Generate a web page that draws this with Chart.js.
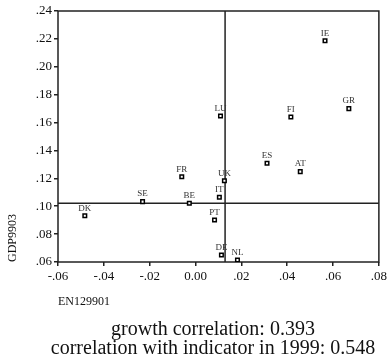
<!DOCTYPE html>
<html>
<head>
<meta charset="utf-8">
<script src="https://cdn.jsdelivr.net/npm/chart.js@4"></script>
<style>
  html, body { margin: 0; padding: 0; background: #fff; }
  #wrap { width: 390px; height: 362px; }
</style>
</head>
<body>
<div id="wrap"><canvas id="chart" width="390" height="362"></canvas></div>
<script>
// countries and their values
const countries = ['IE', 'GR', 'LU', 'FI', 'ES', 'AT', 'UK', 'IT', 'FR', 'SE', 'BE', 'DK', 'PT', 'DE', 'NL'];
const en129901 = [0.0565, 0.0669, 0.0109, 0.0416, 0.0312, 0.0457, 0.0126, 0.0104, -0.0060, -0.0231, -0.0027, -0.0483, 0.0083, 0.0113, 0.0183];
const gdp9903 = [0.2187, 0.1700, 0.1647, 0.1640, 0.1308, 0.1248, 0.1183, 0.1064, 0.1212, 0.1033, 0.1021, 0.0932, 0.0901, 0.0650, 0.0614];

// reference lines (means)
const refX = [0.0129];
const refY = [0.1021];

const xTicks = [-0.06, -0.04, -0.02, 0, 0.02, 0.04, 0.06, 0.08];
const yTicks = [0.06, 0.08, 0.10, 0.12, 0.14, 0.16, 0.18, 0.20, 0.22, 0.24];

const captions = ['growth correlation: 0.393', 'correlation with indicator in 1999: 0.548'];

const serif = '"Liberation Serif", "DejaVu Serif", serif';

function fmt(v) {
    if (Math.abs(v) < 1e-9) return '0.00';
    return v.toFixed(2).replace('0.', '.');
}

// Frame, reference lines, point labels and the captions underneath
const extras = {
    id: 'extras',
    beforeDatasetsDraw(chart) {
        const { ctx, chartArea: a, scales: { x, y } } = chart;
        ctx.save();
        ctx.strokeStyle = '#222';
        ctx.lineWidth = 1.5;
        refX.forEach(v => {
            const px = x.getPixelForValue(v);
            ctx.beginPath();
            ctx.moveTo(px, a.top);
            ctx.lineTo(px, a.bottom);
            ctx.stroke();
        });
        refY.forEach(v => {
            const py = y.getPixelForValue(v);
            ctx.beginPath();
            ctx.moveTo(a.left, py);
            ctx.lineTo(a.right, py);
            ctx.stroke();
        });
        ctx.strokeRect(a.left, a.top, a.right - a.left, a.bottom - a.top);
        ctx.restore();
    },
    afterDatasetsDraw(chart) {
        const { ctx } = chart;
        const meta = chart.getDatasetMeta(0);
        ctx.save();
        ctx.font = '9px ' + serif;
        ctx.fillStyle = '#333';
        ctx.textAlign = 'center';
        ctx.textBaseline = 'bottom';
        meta.data.forEach((pt, i) => {
            ctx.fillText(countries[i], pt.x, pt.y - 3);
        });
        ctx.restore();
    },
    afterDraw(chart) {
        const { ctx } = chart;
        ctx.save();
        ctx.font = '20px ' + serif;
        ctx.fillStyle = '#111';
        ctx.textAlign = 'center';
        ctx.textBaseline = 'alphabetic';
        captions.forEach((t, i) => ctx.fillText(t, 213, 335 + i * 18.5));
        ctx.restore();
    }
};

new Chart(document.getElementById('chart'), {
    type: 'scatter',
    data: {
        datasets: [{
            data: en129901.map((v, i) => ({ x: v, y: gdp9903[i] })),
            pointStyle: 'rect',
            radius: 2.5,
            borderWidth: 1.5,
            borderColor: '#000',
            backgroundColor: '#fff'
        }]
    },
    options: {
        responsive: false,
        animation: false,
        layout: { padding: { top: 11, right: 8, left: 0, bottom: 47 } },
        plugins: {
            legend: { display: false },
            tooltip: { enabled: false },
            title: { display: false }
        },
        scales: {
            x: {
                type: 'linear',
                min: xTicks[0],
                max: xTicks[xTicks.length - 1],
                afterBuildTicks: s => { s.ticks = xTicks.map(v => ({ value: v })); },
                afterFit: s => { s.height = 53; },
                grid: { drawOnChartArea: false, drawTicks: true, tickLength: 4, color: '#222', lineWidth: 1.5 },
                border: { display: false },
                ticks: {
                    color: '#111',
                    padding: 3,
                    maxRotation: 0,
                    font: { family: serif, size: 13 },
                    callback: v => fmt(v)
                },
                title: {
                    display: true,
                    text: 'EN129901',
                    align: 'start',
                    color: '#111',
                    font: { family: serif, size: 12 },
                    padding: { top: 0, bottom: 6 }
                }
            },
            y: {
                type: 'linear',
                min: yTicks[0],
                max: yTicks[yTicks.length - 1],
                afterBuildTicks: s => { s.ticks = yTicks.map(v => ({ value: v })); },
                afterFit: s => { s.width = 58; },
                grid: { drawOnChartArea: false, drawTicks: true, tickLength: 4, color: '#222', lineWidth: 1.5 },
                border: { display: false },
                ticks: {
                    color: '#111',
                    padding: 2,
                    font: { family: serif, size: 13 },
                    callback: v => fmt(v)
                },
                title: {
                    display: true,
                    text: 'GDP9903',
                    align: 'start',
                    color: '#111',
                    font: { family: serif, size: 12 },
                    padding: { top: 6, bottom: 0 }
                }
            }
        }
    },
    plugins: [extras]
});
</script>
</body>
</html>
